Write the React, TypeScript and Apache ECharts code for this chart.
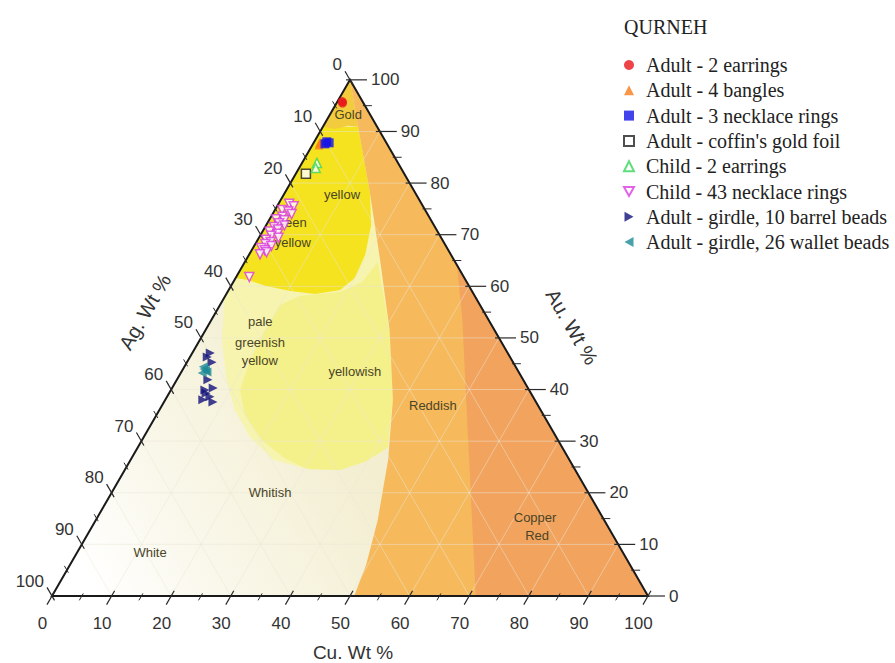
import React, { useEffect, useRef } from "react";
import * as echarts from "echarts";

// ---------------- DATA ----------------
// Samples: [Cu, Ag, Au] in wt %
const adult2Earrings = [[0.8, 3.4, 95.8], [1.0, 3.5, 95.5]];
const adult4Bangles = [[1.0, 11.2, 87.8], [1.2, 11.0, 87.8], [1.5, 10.8, 87.7], [1.1, 11.5, 87.4]];
const adult3NecklaceRings = [[2.1, 9.9, 88.0], [2.6, 9.6, 87.8], [2.0, 10.4, 87.6]];
const adultCoffinGoldFoil = [[1.7, 16.5, 81.8]];
const child2Earrings = [[2.5, 13.6, 83.9], [2.8, 14.3, 82.9]];
const child43NecklaceRings = [
  [1.8, 22.2, 76.0], [2.8, 21.7, 75.5], [1.2, 24.0, 74.8], [2.4, 23.1, 74.5], [3.2, 22.8, 74.0],
  [1.9, 24.6, 73.5], [1.1, 25.9, 73.0], [2.6, 24.6, 72.8], [2.0, 25.8, 72.2], [3.1, 25.1, 71.8],
  [1.5, 27.0, 71.5], [2.4, 26.6, 71.0], [1.2, 28.2, 70.6], [2.8, 27.0, 70.2], [1.9, 28.3, 69.8],
  [3.3, 27.3, 69.4], [1.4, 29.6, 69.0], [2.4, 29.0, 68.6], [1.7, 30.1, 68.2], [2.9, 29.3, 67.8],
  [1.4, 31.2, 67.4], [2.2, 30.8, 67.0], [2.7, 30.7, 66.6], [1.8, 32.0, 66.2], [2.2, 36.0, 61.8],
];
const adultGirdleBarrelBeads = [
  [3.0, 49.9, 47.1], [2.9, 50.8, 46.3], [4.2, 50.5, 45.3], [5.2, 52.9, 41.9], [5.7, 54.4, 39.9],
  [6.9, 52.8, 40.3], [6.2, 54.5, 39.3], [7.2, 54.2, 38.6], [6.3, 55.7, 38.0], [8.2, 54.2, 37.6],
];
const adultGirdleWalletBeads = [
  [3.2, 52.4, 44.4], [4.3, 52.3, 43.4], [3.6, 53.2, 43.2], [3.5, 52.5, 44.0], [3.9, 52.4, 43.7],
];

// Colour-zone outlines as [Cu, Au] pairs (Ag = 100 - Cu - Au)
const goldZone = [[0, 100], [0, 90.9], [2.2, 90.5], [4.1, 91.1], [5.9, 90.9], [1.5, 97.7]];
const reddishBoundary = [[0, 100], [1.5, 97.7], [5.9, 90.9], [14.3, 78.1], [22.5, 65.1], [30.9, 51.5], [38.2, 38.0], [43.2, 26.4], [47.3, 14.7], [49.7, 6.0], [50.7, 0]];
const copperBoundary = [[35.9, 64.1], [42.1, 53.5], [50.5, 38.0], [58.9, 22.5], [67.3, 7.0], [71.1, 0]];
const paleZone = [[0, 90.9], [0, 57.9], [3.7, 49.6], [8.3, 41.9], [12.7, 36.0], [17.8, 30.8], [23.9, 26.4], [30.5, 24.6], [36.1, 24.4], [39.5, 26.0], [42.0, 28.7], [38.2, 38.0], [30.9, 51.5], [22.5, 65.1], [14.3, 78.1], [5.9, 90.9]];
const yellowishZone = [[12.5, 58.1], [18.9, 58.9], [21.6, 60.8], [22.3, 64.7], [30.9, 51.5], [38.2, 38.0], [42.0, 28.7], [39.5, 26.0], [36.1, 24.4], [30.5, 24.6], [25.7, 26.7], [20.1, 30.2], [14.8, 35.1], [11.6, 39.9], [10.4, 45.7], [10.0, 51.5], [10.1, 56.4]];
const yellowZone = [[0, 90.9], [5.9, 90.9], [10.1, 84.5], [14.3, 78.1], [17.6, 71.9], [19.5, 66.1], [20.0, 61.6], [18.7, 59.3], [14.9, 58.5], [10.4, 59.1], [5.7, 60.1], [2.3, 61.2], [0, 61.6]];

// Zone names and their anchor composition [Cu, Au]
const zoneLabels = ["Gold", "yellow", "green", "yellow", "pale", "greenish", "yellow", "yellowish", "Reddish", "Copper", "Red", "Whitish", "White"];
const zoneLabelAt = [[3.1, 93.2], [9.8, 77.7], [3.8, 72.3], [6.2, 68.4], [8.4, 53.1], [10.3, 49.2], [12.0, 45.7], [29.1, 43.4], [45.4, 37.0], [73.4, 15.3], [75.5, 11.8], [26.6, 20.0], [12.2, 8.5]];

const majorTicks = [0, 10, 20, 30, 40, 50, 60, 70, 80, 90, 100];
const minorTicks = [5, 15, 25, 35, 45, 55, 65, 75, 85, 95];
const gridLevels = [10, 20, 30, 40, 50, 60, 70, 80, 90];

const triDown = "path://M0,0 L10,0 L5,9 Z";
const triRight = "path://M0,0 L9,5 L0,10 Z";
const triLeft = "path://M9,0 L9,10 L0,5 Z";

const seriesDefs = [
  { name: "Adult - 2 earrings", data: adult2Earrings, symbol: "circle", rot: 0, icon: "circle", color: "#e8141c", hollow: false },
  { name: "Adult - 4 bangles", data: adult4Bangles, symbol: "triangle", rot: 0, icon: "triangle", color: "#f77d1a", hollow: false },
  { name: "Adult - 3 necklace rings", data: adult3NecklaceRings, symbol: "rect", rot: 0, icon: "rect", color: "#1414e6", hollow: false },
  { name: "Adult - coffin's gold foil", data: adultCoffinGoldFoil, symbol: "rect", rot: 0, icon: "rect", color: "#222222", hollow: true },
  { name: "Child - 2 earrings", data: child2Earrings, symbol: "triangle", rot: 0, icon: "triangle", color: "#3ad45a", hollow: true },
  { name: "Child - 43 necklace rings", data: child43NecklaceRings, symbol: "triangle", rot: 180, icon: triDown, color: "#d93ce0", hollow: true },
  { name: "Adult - girdle, 10 barrel beads", data: adultGirdleBarrelBeads, symbol: "triangle", rot: -90, icon: triRight, color: "#12127a", hollow: false },
  { name: "Adult - girdle, 26 wallet beads", data: adultGirdleWalletBeads, symbol: "triangle", rot: 90, icon: triLeft, color: "#1c8a96", hollow: false },
];

// ---------------- GEOMETRY ----------------
const S = Math.sqrt(3) / 2;
const toXY = (cu: number, au: number): number[] => [cu + au / 2, au * S];
const CW = 895, CH = 663;
const PX = 5.96; // px per composition unit
const X0 = 52, Y0 = 596; // pixel of Ag-100 corner

const sans = "'Liberation Sans', Arial, sans-serif";
const serif = "'Liberation Serif', 'Times New Roman', serif";

function renderFrame(_params: any, api: any) {
  const P = (cu: number, au: number): number[] => api.coord(toXY(cu, au));
  const ch: any[] = [];
  const poly = (pts: number[][], fill: any) => ({
    type: "polygon", silent: true,
    shape: { points: pts.map(([c, a]) => P(c, a)) },
    style: { fill },
  });
  const line = (a: number[], b: number[], stroke: string, w: number) => ({
    type: "line", silent: true,
    shape: { x1: a[0], y1: a[1], x2: b[0], y2: b[1] },
    style: { stroke, lineWidth: w },
  });
  const txt = (x: number, y: number, text: string, o: any = {}) => ({
    type: "text", silent: true, x, y, rotation: o.rot || 0,
    style: {
      text, fill: o.fill || "#333", fontSize: o.size || 17, fontFamily: o.family || sans,
      align: o.align || "center", verticalAlign: o.va || "middle",
    },
  });

  const bl = P(0, 0), br = P(100, 0), tp = P(0, 100);
  ch.push({
    type: "polygon", silent: true, shape: { points: [bl, br, tp] },
    style: {
      fill: new echarts.graphic.LinearGradient(bl[0] + 40, bl[1] - 10, bl[0] + 300, bl[1] - 160, [
        { offset: 0, color: "#ffffff" }, { offset: 0.4, color: "#f9f7e9" }, { offset: 1, color: "#f3eed0" },
      ], true),
    },
  });
  ch.push(poly(paleZone, "#f7f4b0"));
  ch.push(poly(yellowishZone, "#f4f08a"));
  ch.push(poly(yellowZone, "#f4e31e"));
  ch.push(poly(goldZone, "#f2cb3e"));
  ch.push(poly([...reddishBoundary, [100, 0]], "#f6b95b"));
  ch.push(poly([...copperBoundary, [100, 0]], "#f2a35e"));

  // faint internal grid
  const gc = "rgba(235,232,215,0.5)";
  for (const k of gridLevels) {
    ch.push(line(P(0, k), P(100 - k, k), gc, 1));
    ch.push(line(P(k, 0), P(k, 100 - k), gc, 1));
    ch.push(line(P(100 - k, 0), P(0, 100 - k), gc, 1));
  }

  // triangle frame
  ch.push({ type: "polygon", silent: true, shape: { points: [bl, br, tp] }, style: { fill: "none", stroke: "#1a1a1a", lineWidth: 2 } });

  const tick = (p: number[], d: number[], inn: number, out: number, w: number) =>
    line([p[0] - d[0] * inn, p[1] - d[1] * inn], [p[0] + d[0] * out, p[1] + d[1] * out], "#2a2a2a", w);
  const dB = [-0.5, S], dR = [1, 0], dL = [-0.5, -S];
  for (const v of majorTicks) {
    const pb = P(v, 0), pr = P(100 - v, v), pl = P(0, 100 - v);
    ch.push(tick(pb, dB, 6, 10, 1.2));
    ch.push(tick(pr, dR, 4, 17, 1.2));
    ch.push(tick(pl, dL, 5, 10, 1.2));
    ch.push(txt(pb[0] - 9.5, pb[1] + 27, String(v)));
    ch.push(txt(pr[0] + 21, pr[1], String(v), { align: "left" }));
    ch.push(txt(pl[0] - 8, pl[1] - 15, String(v), { align: "right" }));
  }
  for (const v of minorTicks) {
    ch.push(tick(P(v, 0), dB, 3, 5, 1));
    ch.push(tick(P(100 - v, v), dR, 2, 7, 1));
    ch.push(tick(P(0, 100 - v), dL, 3, 5, 1));
  }

  // axis titles
  const mb = P(50, 0), mr = P(50, 50), ml = P(0, 50);
  ch.push(txt(mb[0] + 3, mb[1] + 56, "Cu. Wt %", { size: 19 }));
  ch.push(txt(mr[0] + 73, mr[1] - 11, "Au. Wt %", { size: 20, rot: -Math.PI / 3 }));
  ch.push(txt(ml[0] - 56, ml[1] - 26, "Ag. Wt %", { size: 20, rot: Math.PI / 3 }));

  // zone names
  zoneLabels.forEach((t, i) => {
    const p = P(zoneLabelAt[i][0], zoneLabelAt[i][1]);
    ch.push(txt(p[0], p[1], t, { size: 13, fill: "#4a4526" }));
  });

  return { type: "group", children: ch };
}

export default function App() {
  const ref = useRef<HTMLDivElement>(null);
  useEffect(() => {
    if (!ref.current) return;
    const chart = echarts.init(ref.current, undefined, { renderer: "svg" });
    chart.setOption({
      animation: false,
      backgroundColor: "#ffffff",
      title: {
        text: "QURNEH", left: 619, top: 12,
        textStyle: { fontFamily: serif, fontSize: 20, fontWeight: "normal", color: "#222" },
      },
      legend: {
        orient: "vertical", left: 618, top: 50,
        itemWidth: 10, itemHeight: 10, itemGap: 5.3,
        data: seriesDefs.map((d) => ({ name: d.name, icon: d.icon })),
        textStyle: { fontFamily: serif, fontSize: 20, color: "#222", lineHeight: 20, padding: [0, 0, 0, 7] },
      },
      grid: { left: 0, right: 0, top: 0, bottom: 0 },
      xAxis: { type: "value", min: -X0 / PX, max: (CW - X0) / PX, show: false },
      yAxis: { type: "value", min: -(CH - Y0) / PX, max: Y0 / PX, show: false },
      series: [
        { type: "custom", renderItem: renderFrame, data: [[0, 0]], z: 1, silent: true, clip: false },
        ...seriesDefs.map((d) => ({
          type: "scatter", name: d.name,
          data: d.data.map(([cu, _ag, au]) => toXY(cu, au)),
          symbol: d.symbol, symbolRotate: d.rot, symbolSize: 9, z: 5,
          itemStyle: d.hollow
            ? { color: "#ffffff", borderColor: d.color, borderWidth: 1.5 }
            : { color: d.color },
        })),
      ],
    });
    return () => chart.dispose();
  }, []);
  return <div ref={ref} style={{ position: "fixed", left: 0, top: 0, width: CW, height: CH }} />;
}
